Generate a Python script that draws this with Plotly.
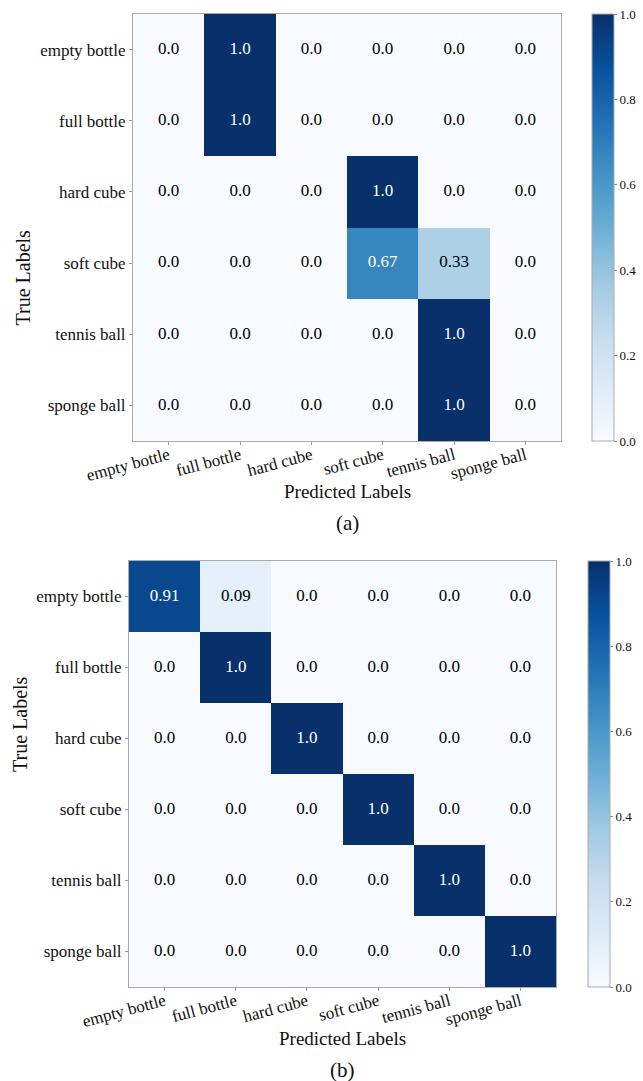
import plotly.graph_objects as go

labels = ["empty bottle", "full bottle", "hard cube", "soft cube", "tennis ball", "sponge ball"]

# rows = true labels, columns = predicted labels
cm_a = [
    [0.0, 1.0, 0.0, 0.0, 0.0, 0.0],
    [0.0, 1.0, 0.0, 0.0, 0.0, 0.0],
    [0.0, 0.0, 0.0, 1.0, 0.0, 0.0],
    [0.0, 0.0, 0.0, 0.67, 0.33, 0.0],
    [0.0, 0.0, 0.0, 0.0, 1.0, 0.0],
    [0.0, 0.0, 0.0, 0.0, 1.0, 0.0],
]
cm_b = [
    [0.91, 0.09, 0.0, 0.0, 0.0, 0.0],
    [0.0, 1.0, 0.0, 0.0, 0.0, 0.0],
    [0.0, 0.0, 1.0, 0.0, 0.0, 0.0],
    [0.0, 0.0, 0.0, 1.0, 0.0, 0.0],
    [0.0, 0.0, 0.0, 0.0, 1.0, 0.0],
    [0.0, 0.0, 0.0, 0.0, 0.0, 1.0],
]
panel_tags = ["(a)", "(b)"]
cbar_ticks = [0.0, 0.2, 0.4, 0.6, 0.8, 1.0]

blues = ["rgb(247,251,255)", "rgb(222,235,247)", "rgb(198,219,239)", "rgb(158,202,225)",
         "rgb(107,174,214)", "rgb(66,146,198)", "rgb(33,113,181)", "rgb(8,81,156)", "rgb(8,48,107)"]
cscale = [[i / (len(blues) - 1), c] for i, c in enumerate(blues)]

FONT = "Liberation Serif, Times New Roman, serif"
W, H = 643, 1081

def px_x(p):
    return p / W

def px_y(p):
    return 1 - p / H

fig = go.Figure()

# geometry in pixels: (left, right, top, bottom), colorbar (left, thickness)
panels = [
    dict(cm=cm_a, box=(133, 561, 14, 441), cb=(592, 22), title_y=492, tag_y=523, ytitle_x=22),
    dict(cm=cm_b, box=(129, 556, 561, 987), cb=(588, 22), title_y=1038, tag_y=1070, ytitle_x=20),
]

for k, p in enumerate(panels):
    cm = p["cm"]
    l, r, t, b = p["box"]
    sfx = "" if k == 0 else "2"
    fig.add_trace(go.Heatmap(
        z=cm, x=labels, y=labels, xaxis="x" + sfx, yaxis="y" + sfx,
        colorscale=cscale, zmin=0, zmax=1, xgap=0, ygap=0,
        colorbar=dict(
            x=px_x(p["cb"][0]), xanchor="left", xref="paper",
            y=px_y(t), yanchor="top", len=(b - t) / H, lenmode="fraction",
            thickness=p["cb"][1], thicknessmode="pixels",
            outlinecolor="#aaaaaa", outlinewidth=1,
            tickvals=cbar_ticks, ticktext=[f"{v:.1f}" for v in cbar_ticks],
            ticks="outside", ticklen=3, tickcolor="#888888",
            tickfont=dict(family=FONT, size=13, color="#111"),
            xpad=0, ypad=0,
        ),
        hoverinfo="skip",
    ))
    xs, ys, txt, cols = [], [], [], []
    for i, row in enumerate(cm):
        for j, v in enumerate(row):
            xs.append(labels[j])
            ys.append(labels[i])
            txt.append(str(v))
            cols.append("white" if v > 0.5 else "black")
    fig.add_trace(go.Scatter(
        x=xs, y=ys, text=txt, mode="text", xaxis="x" + sfx, yaxis="y" + sfx,
        textfont=dict(family=FONT, size=17, color=cols), showlegend=False, hoverinfo="skip",
    ))
    fig.update_layout(**{
        "xaxis" + sfx: dict(
            domain=[px_x(l), px_x(r)], anchor="y" + sfx, automargin=False,
            tickangle=-15, ticks="outside", ticklen=3, tickcolor="#999999",
            ticklabelstandoff=-6,
            tickfont=dict(family=FONT, size=17, color="#111"),
            showline=True, linecolor="#aaaaaa", linewidth=1, mirror=True,
            showgrid=False, zeroline=False,
        ),
        "yaxis" + sfx: dict(
            domain=[px_y(b), px_y(t)], anchor="x" + sfx, autorange="reversed", automargin=False,
            ticks="outside", ticklen=3, tickcolor="#999999",
            tickfont=dict(family=FONT, size=17, color="#111"),
            showline=True, linecolor="#aaaaaa", linewidth=1, mirror=True,
            showgrid=False, zeroline=False,
        ),
    })
    fig.add_annotation(text="Predicted Labels", xref="paper", yref="paper",
                       x=px_x((l + r) / 2), y=px_y(p["title_y"]), showarrow=False,
                       font=dict(family=FONT, size=19, color="#111"), yanchor="middle")
    fig.add_annotation(text="True Labels", xref="paper", yref="paper", textangle=-90,
                       x=px_x(p["ytitle_x"]), y=px_y((t + b) / 2), showarrow=False,
                       font=dict(family=FONT, size=20, color="#111"), xanchor="center")
    fig.add_annotation(text=panel_tags[k], xref="paper", yref="paper",
                       x=px_x((l + r) / 2), y=px_y(p["tag_y"]), showarrow=False,
                       font=dict(family=FONT, size=21, color="#111"), yanchor="middle")

fig.update_layout(
    width=W, height=H, margin=dict(l=0, r=0, t=0, b=0, autoexpand=False),
    paper_bgcolor="white", plot_bgcolor="white", showlegend=False,
)

fig.write_html("out.html", config={"displayModeBar": False},
               post_script="document.body.style.margin='0';")
